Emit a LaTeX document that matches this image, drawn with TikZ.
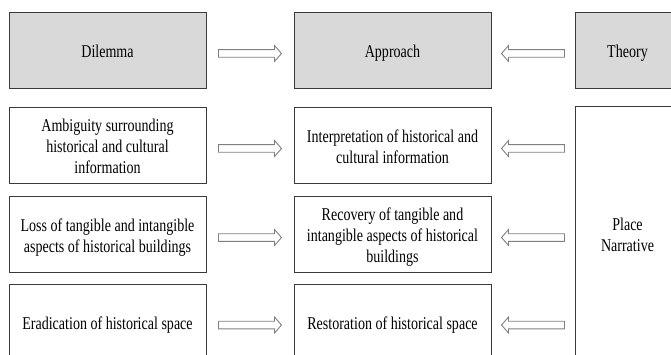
\documentclass[tikz,border=0pt]{standalone}
\usepackage{fontspec}
\setmainfont{Liberation Serif}[FakeStretch=0.78]
\usetikzlibrary{calc,positioning}
\definecolor{FrameInk}{HTML}{3A3A3A}
\definecolor{HeadGrey}{HTML}{D9D9D9}
\definecolor{ArrowGrey}{HTML}{7F7F7F}

% text sits a little below the middle of each box (optional drop)
\newcommand{\celltext}[2][3.5pt]{\raisebox{0pt}[\dimexpr\height+#1\relax][\dimexpr\depth-#1\relax]{\begin{tabular}{@{}c@{}}#2\end{tabular}}}

\tikzset{
  cell/.style={draw=FrameInk,line width=0.8pt,fill=white,minimum width=197pt,minimum height=76pt,inner sep=2pt},
  head/.style={cell,fill=HeadGrey},
  % outlined block arrow, centred between the two ends, pointing to the target
  hollowarrow/.style={draw=ArrowGrey,fill=white,line width=0.9pt,
    to path={let \p1=(\tikztostart),\p2=(\tikztotarget),\n1={sign(\x2-\x1)},\n2={(\x1+\x2)/2},\n3={\y1-3.5} in
      ({\n2-\n1*31.5},{\n3-3.8}) -- ({\n2+\n1*24.5},{\n3-3.8}) -- ({\n2+\n1*24.5},{\n3-8})
      -- ({\n2+\n1*31.5},\n3) -- ({\n2+\n1*24.5},{\n3+8}) -- ({\n2+\n1*24.5},{\n3+3.8})
      -- ({\n2-\n1*31.5},{\n3+3.8}) -- cycle}}
}

\begin{document}
\begin{tikzpicture}[x=1pt,y=1pt,font=\fontsize{18pt}{21pt}\selectfont]
      \useasboundingbox (0,0) rectangle (671,-355);
      \clip (0,0) rectangle (671,-355);
      % header row
      \node[head] (dil) at (107.5,-50) {\celltext{Dilemma}};
      \node[head] (app) at (392.5,-50) {\celltext{Approach}};
      \node[head,minimum width=105pt] (thy) at (627.5,-50) {\celltext{Theory}};
      % dilemma / approach pairs
      \node[cell] (amb) at (107.5,-145) {\celltext{Ambiguity surrounding\\historical and cultural\\information}};
      \node[cell] (int) at (392.5,-145) {\celltext{Interpretation of historical and\\cultural information}};
      \node[cell] (loss) at (107.5,-234) {\celltext{Loss of tangible and intangible\\aspects of historical buildings}};
      \node[cell] (rec) at (392.5,-234) {\celltext{Recovery of tangible and\\intangible aspects of historical\\buildings}};
      \node[cell,minimum height=82pt] (era) at (107.5,-325) {\celltext[0pt]{Eradication of historical space}};
      \node[cell,minimum height=82pt] (res) at (392.5,-325) {\celltext[0pt]{Restoration of historical space}};
      \node[cell,minimum width=105pt,minimum height=254pt] (pn) at (627.5,-233) {\celltext{Place\\Narrative}};
      % arrows
      \draw[hollowarrow] (dil.east) to (app.west);
      \draw[hollowarrow] (thy.west) to (app.east);
      \draw[hollowarrow] (amb.east) to (int.west);
      \draw[hollowarrow] (loss.east) to (rec.west);
      \draw[hollowarrow] ($(era.east)+(0,3.5)$) to ($(res.west)+(0,3.5)$);
      \draw[hollowarrow] (pn.west |- int.east) to (int.east);
      \draw[hollowarrow] (pn.west |- rec.east) to (rec.east);
      \draw[hollowarrow] ($(pn.west |- res.east)+(0,3.5)$) to ($(res.east)+(0,3.5)$);
    \end{tikzpicture}
\end{document}
